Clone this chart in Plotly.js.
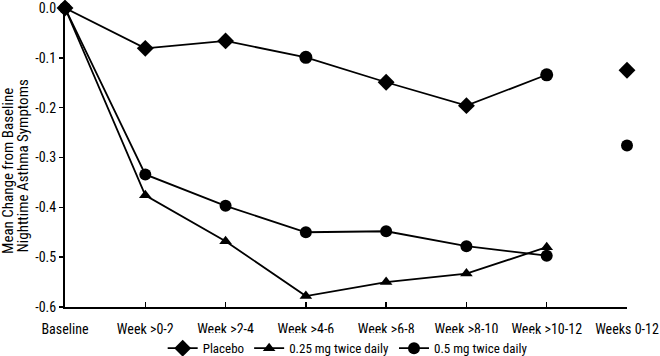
<!DOCTYPE html>
<html>
<head>
<meta charset="utf-8">
<script src="https://cdn.plot.ly/plotly-3.0.1.min.js"></script>
<style>html,body{margin:0;padding:0;background:#fff}#chart{width:660px;height:356px}</style>
</head>
<body>
<div id="chart"></div>
<script>
var categories = ["Baseline", "Week >0-2", "Week >2-4", "Week >4-6", "Week >6-8", "Week >8-10", "Week >10-12", "Weeks 0-12"];
var placebo = [0, -0.081, -0.066, -0.099, -0.149, -0.196, -0.134];
var placeboSymbols = ["diamond", "diamond", "diamond", "circle", "diamond", "diamond", "circle"];
var mg025 = [0, -0.376, -0.468, -0.578, -0.550, -0.533, -0.480];
var mg05 = [0, -0.334, -0.397, -0.450, -0.448, -0.478, -0.497];
var overallPlacebo = -0.125;
var overallMg05 = -0.276;
var yTicks = [0, -0.1, -0.2, -0.3, -0.4, -0.5, -0.6];
var yTickText = ["0.0", "-0.1", "-0.2", "-0.3", "-0.4", "-0.5", "-0.6"];
var yTitleLines = ["Mean Change from Baseline", "Nighttime Asthma Symptoms"];

var FONT = "'Liberation Sans Narrow', 'Arial Narrow', 'Roboto Condensed', 'Liberation Sans', Arial, sans-serif";
var idx = categories.slice(0, 7).map(function (_, i) { return i; });
var last = categories.length - 1;

var traces = [
  { x: idx, y: placebo, name: "Placebo", mode: "lines+markers", type: "scatter",
    line: { color: "#000", width: 1.8 },
    marker: { symbol: placeboSymbols, size: 13, color: "#000" }, cliponaxis: false },
  { x: idx, y: mg025, name: "0.25 mg twice daily", mode: "lines+markers", type: "scatter",
    line: { color: "#000", width: 1.8 },
    marker: { symbol: "triangle-up", size: 11, color: "#000" }, cliponaxis: false },
  { x: idx, y: mg05, name: "0.5 mg twice daily", mode: "lines+markers", type: "scatter",
    line: { color: "#000", width: 1.8 },
    marker: { symbol: "circle", size: 12, color: "#000" }, cliponaxis: false },
  { x: [last], y: [overallPlacebo], mode: "markers", type: "scatter", showlegend: false,
    marker: { symbol: "diamond", size: 13, color: "#000" }, cliponaxis: false },
  { x: [last], y: [overallMg05], mode: "markers", type: "scatter", showlegend: false,
    marker: { symbol: "circle", size: 12, color: "#000" }, cliponaxis: false }
];

var layout = {
  width: 660, height: 356,
  margin: { l: 65, r: 33, t: 8, b: 49, autoexpand: false },
  paper_bgcolor: "#fff", plot_bgcolor: "#fff",
  font: { family: FONT, size: 13, color: "#000" },
  showlegend: true,
  legend: { orientation: "h", x: 0.503, xanchor: "center", y: -0.138, yanchor: "middle",
            font: { family: FONT, size: 13, color: "#000" }, itemwidth: 30, tracegroupgap: 0 },
  xaxis: {
    range: [0, last], tickmode: "array",
    tickvals: categories.map(function (_, i) { return i; }), ticktext: categories,
    showline: true, linecolor: "#000", linewidth: 2,
    ticks: "inside", ticklen: 5, tickwidth: 1.5, tickcolor: "#000",
    showgrid: false, zeroline: false, tickfont: { family: FONT, size: 14 },
    ticklabelstandoff: 8, ticklabeloverflow: "allow"
  },
  yaxis: {
    range: [-0.6, 0], tickmode: "array", tickvals: yTicks, ticktext: yTickText,
    showline: true, linecolor: "#000", linewidth: 2,
    ticks: "outside", ticklen: 4, tickwidth: 1.5, tickcolor: "#000",
    showgrid: false, zeroline: false, tickfont: { family: FONT, size: 14 },
    ticklabeloverflow: "allow"
  },
  annotations: [
    { text: yTitleLines[0], xref: "paper", yref: "paper", x: 0, xshift: -57, y: 0.455,
      xanchor: "center", yanchor: "middle", textangle: -90, showarrow: false,
      font: { family: FONT, size: 15, color: "#000" } },
    { text: yTitleLines[1], xref: "paper", yref: "paper", x: 0, xshift: -42, y: 0.47,
      xanchor: "center", yanchor: "middle", textangle: -90, showarrow: false,
      font: { family: FONT, size: 15, color: "#000" } }
  ]
};

Plotly.newPlot("chart", traces, layout, { displayModeBar: false, staticPlot: true });
</script>
</body>
</html>
